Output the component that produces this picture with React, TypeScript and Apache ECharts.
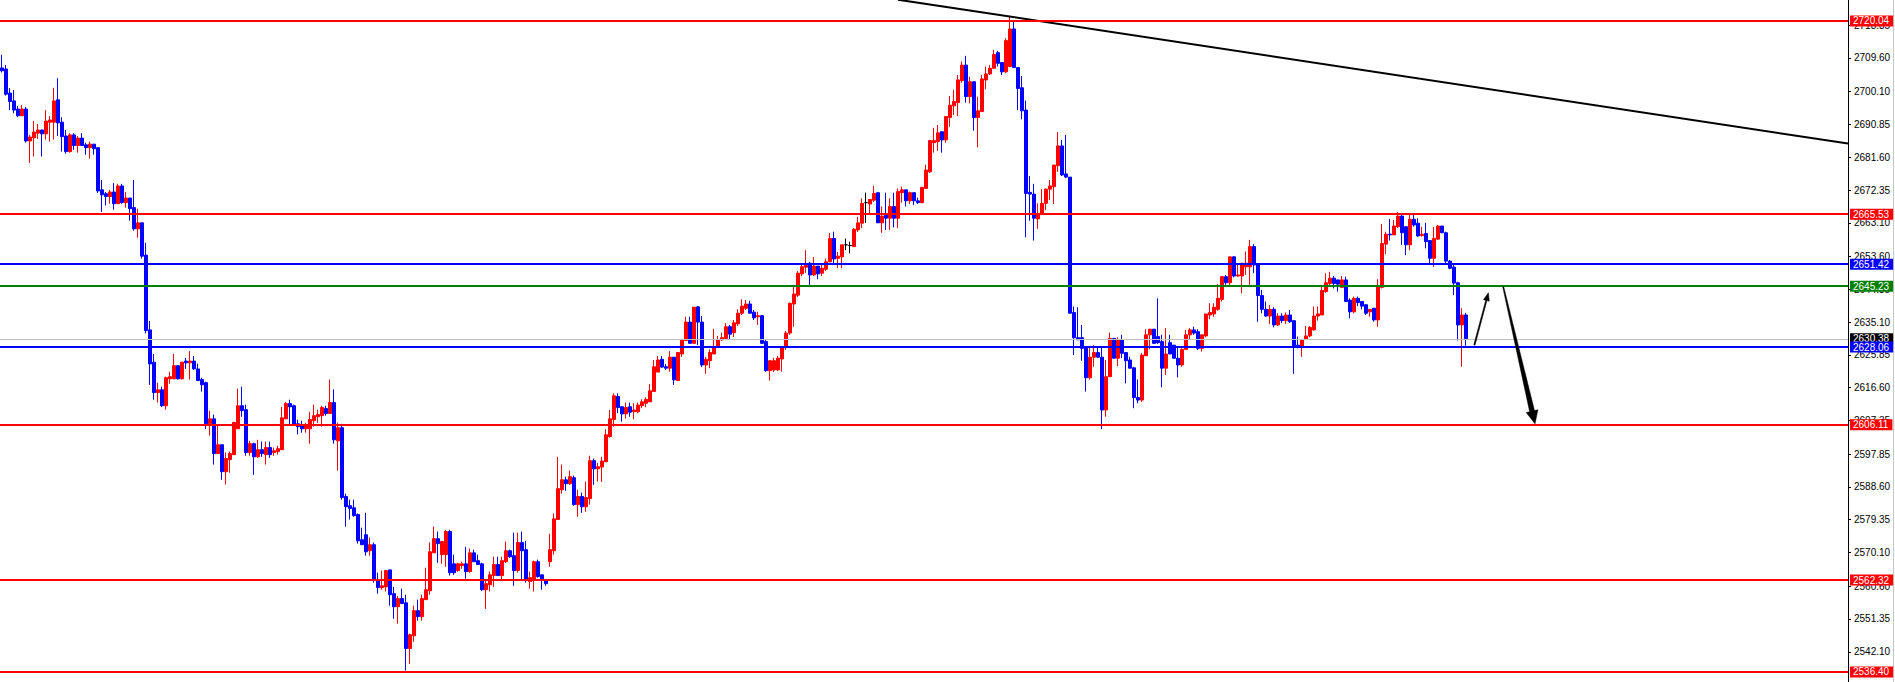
import React, { useEffect, useRef } from "react";
import * as echarts from "echarts";

// ---- candle data (oldest -> newest) ----
const opens = [
2706.8,2706.5,2699.7,2697.5,2695.2,2693.3,2695.2,2686.2,2687.1,2688.4,
2689.3,2688.2,2691.5,2691.5,2697.8,2691.5,2687.6,2683.2,2687.9,2684.9,
2687.0,2685.1,2684.3,2685.3,2684.3,2672.4,2671.3,2670.5,2671.8,2668.5,
2673.5,2668.8,2670.1,2667.4,2661.4,2663.1,2654.0,2632.9,2623.8,2615.2,
2616.0,2611.5,2619.1,2619.1,2622.8,2619.1,2624.1,2623.6,2624.1,2621.9,
2618.9,2618.0,2606.4,2607.8,2598.0,2600.5,2592.9,2596.3,2597.7,2605.0,
2611.5,2610.4,2598.3,2600.8,2597.1,2599.1,2597.7,2599.7,2598.3,2598.6,
2599.1,2607.8,2612.1,2611.5,2606.4,2606.2,2605.0,2605.0,2607.3,2608.4,
2608.7,2610.7,2609.3,2612.4,2601.6,2605.3,2585.9,2583.3,2582.7,2580.8,
2573.7,2575.1,2570.6,2572.3,2562.4,2560.2,2560.4,2565.2,2558.5,2554.8,
2557.1,2555.9,2543.0,2546.6,2553.7,2552.0,2556.8,2559.3,2570.0,2574.0,
2569.5,2569.5,2576.0,2566.9,2565.0,2566.4,2566.9,2564.7,2570.0,2567.8,
2566.9,2559.6,2561.0,2563.6,2566.7,2563.6,2567.5,2570.6,2569.2,2565.0,
2572.9,2570.9,2561.9,2562.2,2567.5,2563.8,2562.2,2567.5,2570.6,2579.4,
2587.8,2590.6,2589.5,2591.2,2583.6,2585.9,2583.0,2585.3,2596.0,2593.7,
2594.2,2595.7,2602.8,2607.6,2614.1,2611.2,2609.2,2611.2,2609.8,2609.8,
2611.5,2612.2,2612.6,2615.5,2621.0,2624.6,2622.5,2622.1,2625.2,2618.6,
2626.1,2629.9,2635.1,2629.1,2639.4,2635.1,2623.0,2624.2,2626.1,2628.2,
2630.1,2630.5,2633.8,2632.1,2634.6,2637.6,2639.0,2640.2,2637.9,2636.6,
2636.9,2629.6,2621.4,2621.6,2621.6,2624.7,2628.0,2632.0,2640.2,2642.7,
2648.7,2650.6,2651.7,2648.4,2650.9,2648.9,2650.0,2652.1,2658.7,2653.1,
2653.5,2656.9,2656.7,2656.4,2661.1,2663.0,2668.8,2668.4,2669.5,2671.6,
2663.1,2665.3,2664.4,2667.7,2664.4,2671.6,2672.4,2669.3,2671.6,2669.3,
2668.8,2672.8,2677.5,2685.7,2686.0,2688.8,2686.5,2692.8,2696.1,2697.0,
2703.2,2707.6,2698.7,2702.9,2692.8,2694.5,2703.4,2705.1,2706.7,2711.1,
2708.3,2705.7,2707.2,2717.8,2706.9,2701.2,2694.9,2671.7,2671.2,2664.2,
2665.6,2668.6,2672.6,2673.3,2679.2,2684.8,2676.9,2676.0,2637.8,2630.7,
2630.7,2627.7,2619.4,2625.2,2626.5,2625.2,2610.3,2619.7,2630.5,2624.9,
2630.2,2626.5,2624.4,2622.2,2613.8,2613.1,2625.6,2631.5,2633.1,2631.0,
2629.6,2622.1,2629.3,2628.6,2624.9,2623.0,2627.4,2631.5,2632.9,2632.4,
2627.7,2631.2,2637.1,2637.4,2638.7,2641.5,2647.9,2646.2,2653.5,2648.1,
2648.1,2650.7,2650.7,2656.4,2651.2,2642.6,2638.7,2636.8,2638.7,2634.3,
2636.8,2635.5,2637.1,2635.5,2628.6,2628.0,2630.2,2631.2,2632.9,2636.8,
2637.1,2643.7,2646.0,2647.5,2647.0,2644.9,2647.0,2641.3,2638.0,2641.8,
2640.9,2640.0,2638.0,2639.0,2635.7,2644.9,2657.1,2659.9,2659.7,2662.0,
2665.0,2662.0,2656.9,2664.1,2663.0,2659.5,2660.1,2658.1,2653.1,2658.5,
2662.2,2660.3,2652.3,2650.6,2646.2,2634.3,2637.1
];

const closes = [
2706.0,2699.4,2697.3,2694.9,2693.3,2695.2,2686.2,2687.3,2688.7,2689.3,
2688.2,2691.8,2692.1,2697.5,2691.3,2687.4,2683.2,2687.9,2684.9,2687.0,
2684.9,2684.3,2685.3,2684.0,2672.1,2671.0,2670.5,2671.8,2668.5,2673.5,
2668.8,2670.1,2667.1,2661.4,2663.1,2653.7,2632.7,2623.3,2615.2,2616.0,
2611.5,2619.4,2619.7,2622.8,2619.1,2623.8,2623.6,2624.1,2621.9,2618.6,
2617.4,2606.4,2607.8,2598.0,2600.5,2592.9,2596.6,2598.0,2606.8,2611.5,
2610.1,2598.3,2600.8,2597.1,2599.1,2598.0,2599.7,2597.7,2598.8,2599.4,
2608.1,2612.1,2611.2,2606.2,2605.6,2605.0,2605.9,2607.6,2608.7,2609.0,
2611.0,2609.3,2612.4,2601.9,2605.3,2585.6,2583.0,2582.5,2580.5,2573.4,
2572.3,2570.3,2572.3,2562.4,2560.2,2560.7,2565.0,2558.2,2554.8,2557.1,
2555.7,2543.0,2546.9,2553.7,2552.0,2557.1,2559.6,2570.3,2574.0,2572.6,
2573.2,2576.0,2564.4,2564.4,2566.9,2566.9,2564.7,2570.0,2567.5,2566.7,
2559.6,2561.3,2563.8,2566.7,2563.6,2567.8,2570.6,2568.9,2565.0,2572.9,
2570.6,2562.2,2563.0,2567.5,2563.3,2562.2,2561.3,2570.9,2579.6,2588.1,
2590.6,2589.5,2591.5,2583.6,2585.9,2583.0,2585.6,2596.0,2593.7,2594.3,
2595.9,2603.3,2607.8,2614.3,2611.0,2609.2,2611.0,2609.7,2610.3,2611.7,
2612.6,2613.3,2615.7,2622.5,2624.4,2622.4,2622.1,2625.2,2618.8,2626.5,
2630.2,2635.1,2629.1,2639.3,2635.1,2623.0,2624.6,2626.5,2628.2,2630.1,
2630.7,2633.8,2631.7,2634.9,2637.6,2639.6,2640.2,2637.6,2636.3,2636.9,
2629.1,2621.4,2624.2,2624.2,2624.9,2628.2,2632.0,2640.4,2643.0,2648.9,
2650.7,2651.2,2648.4,2650.9,2648.7,2650.3,2652.1,2658.7,2652.9,2653.7,
2656.9,2656.9,2656.7,2661.3,2663.1,2668.6,2668.8,2669.7,2671.4,2663.1,
2665.0,2664.4,2667.7,2664.4,2671.9,2672.4,2669.3,2671.6,2669.3,2668.8,
2673.1,2678.0,2686.3,2686.3,2688.5,2686.5,2693.1,2696.3,2697.3,2703.4,
2707.6,2698.7,2702.9,2692.8,2694.7,2703.7,2705.1,2706.7,2710.6,2708.1,
2705.7,2714.5,2717.8,2706.9,2701.0,2694.7,2671.4,2671.2,2664.4,2665.6,
2668.6,2672.6,2673.5,2679.4,2684.8,2676.6,2676.0,2637.6,2630.7,2630.1,
2627.7,2619.4,2625.2,2626.5,2625.2,2610.3,2619.7,2630.5,2624.9,2630.2,
2626.3,2624.2,2622.1,2613.8,2613.1,2625.8,2631.5,2633.1,2629.1,2629.3,
2622.1,2626.1,2626.1,2624.9,2623.0,2627.4,2631.5,2632.9,2632.0,2627.7,
2631.5,2637.4,2637.8,2639.3,2641.8,2647.9,2646.2,2653.5,2648.1,2648.4,
2651.7,2651.7,2656.4,2651.2,2642.6,2638.7,2636.8,2638.7,2634.3,2636.8,
2635.5,2637.1,2635.2,2628.2,2628.0,2630.2,2631.2,2633.6,2636.8,2637.4,
2644.0,2646.2,2647.5,2646.0,2645.8,2647.0,2640.9,2638.0,2641.8,2640.6,
2639.6,2637.6,2638.7,2635.7,2645.1,2657.3,2659.9,2659.7,2662.2,2665.0,
2660.3,2656.9,2664.1,2662.5,2659.4,2659.9,2657.8,2653.1,2658.7,2662.2,
2660.3,2652.3,2650.3,2646.1,2634.3,2637.1,2630.4
];

const lows = [
2705.5,2699.0,2694.9,2694.0,2692.9,2693.3,2685.7,2680.0,2681.8,2686.8,
2681.8,2686.6,2686.0,2686.6,2687.6,2683.2,2682.6,2682.9,2683.7,2682.9,
2684.9,2682.3,2681.2,2682.3,2671.5,2666.2,2668.0,2668.5,2666.8,2668.5,
2668.5,2667.4,2663.7,2660.9,2658.9,2653.0,2631.9,2617.4,2613.2,2612.4,
2611.2,2610.4,2617.7,2619.1,2618.9,2618.9,2621.9,2618.9,2621.6,2618.6,
2615.5,2605.0,2603.1,2594.9,2598.0,2590.6,2589.3,2592.6,2597.7,2605.0,
2608.4,2597.4,2597.4,2592.0,2596.8,2597.1,2594.9,2596.8,2597.4,2597.7,
2599.1,2607.8,2605.9,2605.9,2603.4,2603.9,2603.9,2600.8,2605.6,2606.7,
2605.6,2608.7,2609.3,2600.8,2593.2,2585.0,2577.4,2579.4,2580.2,2572.6,
2572.3,2569.2,2569.2,2561.6,2558.5,2559.6,2559.1,2555.1,2551.4,2550.0,
2555.7,2536.8,2538.7,2544.9,2550.9,2550.9,2556.8,2558.2,2570.0,2567.2,
2566.9,2566.1,2563.6,2563.8,2564.7,2565.5,2562.7,2564.4,2567.5,2566.7,
2559.3,2554.2,2559.1,2560.4,2563.6,2562.4,2567.2,2568.6,2560.7,2564.4,
2562.4,2561.6,2559.9,2559.1,2563.0,2559.6,2560.7,2566.1,2569.5,2579.4,
2586.7,2587.5,2589.2,2583.3,2580.2,2581.3,2581.6,2583.6,2589.2,2590.1,
2590.0,2595.7,2602.5,2605.6,2609.4,2607.0,2607.9,2608.4,2607.7,2609.4,
2610.8,2611.1,2612.6,2615.5,2621.0,2622.2,2621.6,2621.1,2617.4,2618.6,
2625.3,2629.9,2629.1,2629.1,2628.6,2622.4,2620.5,2622.1,2626.1,2627.8,
2629.8,2630.1,2630.3,2630.9,2634.0,2637.1,2638.5,2637.6,2635.7,2634.3,
2628.9,2621.1,2618.6,2621.0,2621.3,2621.1,2627.2,2631.5,2633.8,2642.2,
2648.1,2649.0,2645.6,2648.1,2647.2,2648.1,2649.5,2652.1,2651.7,2650.3,
2650.3,2655.4,2654.5,2656.3,2660.5,2661.6,2663.1,2665.3,2669.0,2663.1,
2660.3,2661.1,2661.1,2661.8,2661.6,2668.8,2667.7,2668.4,2668.1,2668.4,
2668.6,2672.8,2677.2,2682.9,2683.4,2682.9,2685.7,2690.2,2693.5,2693.2,
2702.6,2697.0,2696.8,2689.1,2684.4,2694.5,2700.8,2704.8,2706.7,2707.2,
2704.8,2705.3,2707.0,2706.9,2694.9,2692.3,2659.0,2663.7,2658.1,2661.4,
2665.6,2666.7,2669.5,2668.4,2677.5,2676.3,2675.7,2637.6,2625.8,2630.1,
2624.2,2615.5,2618.9,2622.5,2625.2,2604.9,2608.4,2619.7,2624.9,2622.7,
2624.9,2617.8,2622.1,2610.8,2612.2,2612.6,2625.6,2627.4,2629.1,2628.9,
2616.7,2620.2,2626.1,2624.9,2619.5,2622.5,2627.4,2630.2,2631.5,2627.2,
2626.8,2630.8,2635.9,2636.6,2638.3,2640.9,2645.6,2645.6,2647.7,2647.9,
2643.2,2648.4,2645.6,2648.9,2635.2,2637.6,2636.6,2634.6,2633.6,2634.0,
2634.8,2634.6,2634.9,2620.5,2627.7,2625.3,2630.2,2630.8,2632.7,2635.5,
2637.1,2643.4,2645.1,2644.6,2643.7,2644.9,2640.9,2636.2,2637.6,2639.6,
2638.7,2637.1,2636.6,2635.2,2633.8,2644.6,2654.3,2658.1,2659.7,2661.6,
2656.9,2654.0,2655.4,2662.0,2659.2,2659.2,2655.9,2651.7,2650.6,2658.3,
2660.2,2651.7,2650.0,2642.7,2629.9,2622.5,2628.4
];

const highs = [
2710.5,2707.6,2701.1,2700.6,2696.1,2696.3,2695.8,2687.9,2691.8,2691.0,
2689.3,2694.9,2693.2,2701.2,2703.9,2692.9,2689.3,2688.4,2688.4,2687.6,
2688.4,2685.7,2686.0,2685.3,2684.3,2675.2,2671.8,2672.4,2674.3,2674.1,
2674.1,2671.8,2670.1,2675.2,2667.1,2663.1,2657.5,2635.4,2626.1,2618.0,
2616.9,2619.7,2621.1,2626.1,2622.8,2623.8,2625.0,2626.9,2625.5,2623.4,
2619.4,2618.3,2610.1,2609.0,2606.2,2600.5,2598.3,2598.6,2607.0,2616.3,
2616.9,2611.8,2601.6,2601.1,2601.9,2601.4,2601.4,2601.4,2599.7,2600.2,
2611.2,2612.6,2613.2,2611.8,2607.6,2607.3,2606.7,2609.8,2611.8,2610.4,
2611.5,2611.5,2618.9,2616.1,2606.7,2606.4,2586.7,2585.0,2585.0,2581.1,
2577.1,2581.3,2574.3,2572.9,2564.4,2565.0,2565.2,2565.2,2560.4,2557.9,
2559.9,2558.2,2547.2,2555.1,2556.8,2558.2,2565.8,2572.9,2577.4,2576.0,
2573.4,2576.5,2576.5,2569.5,2567.2,2567.5,2571.7,2571.2,2570.9,2569.5,
2567.2,2562.4,2564.7,2568.9,2568.9,2568.9,2573.2,2570.9,2575.7,2575.7,
2576.0,2573.4,2564.7,2567.8,2568.1,2563.8,2562.2,2575.4,2581.1,2597.1,
2594.9,2591.5,2593.2,2591.8,2587.8,2587.0,2590.1,2597.4,2596.6,2595.4,
2597.1,2604.9,2610.3,2615.0,2615.0,2611.4,2612.4,2612.4,2612.2,2612.4,
2613.3,2613.9,2617.6,2624.4,2625.5,2625.5,2623.3,2626.9,2625.2,2626.7,
2630.2,2636.6,2636.6,2639.4,2639.6,2636.8,2625.3,2627.4,2633.2,2631.2,
2632.1,2634.8,2634.3,2635.7,2638.7,2641.5,2641.3,2641.1,2638.5,2638.0,
2637.1,2630.1,2624.4,2625.0,2625.5,2628.2,2632.6,2640.6,2645.1,2649.5,
2651.2,2655.4,2652.1,2653.4,2650.9,2651.2,2653.0,2660.2,2660.6,2654.9,
2656.9,2658.7,2657.8,2661.6,2664.8,2670.0,2671.6,2669.7,2673.5,2671.6,
2667.7,2671.6,2670.0,2671.6,2672.8,2673.3,2672.4,2671.9,2671.6,2670.2,
2673.3,2679.5,2686.5,2689.9,2690.7,2688.8,2693.1,2698.9,2700.6,2704.8,
2708.6,2710.2,2704.3,2702.9,2698.7,2704.8,2707.2,2707.6,2711.9,2711.6,
2708.3,2715.2,2721.5,2720.1,2706.9,2704.5,2697.6,2676.3,2674.1,2668.6,
2672.6,2672.8,2675.2,2679.4,2688.7,2686.5,2687.9,2676.0,2639.5,2639.3,
2634.3,2628.2,2628.0,2628.6,2628.0,2628.0,2624.4,2632.1,2630.5,2630.8,
2631.5,2626.5,2625.3,2622.5,2618.9,2626.3,2633.1,2633.1,2633.1,2641.8,
2631.5,2633.4,2631.5,2628.6,2628.2,2627.7,2632.9,2633.4,2633.8,2633.1,
2631.5,2637.4,2640.4,2640.4,2645.8,2648.1,2648.4,2653.5,2653.7,2651.7,
2651.7,2655.0,2658.3,2657.1,2651.2,2644.2,2640.9,2639.9,2639.3,2637.6,
2637.6,2637.8,2638.5,2635.7,2631.0,2630.2,2634.0,2634.0,2639.5,2639.5,
2645.3,2648.9,2649.3,2648.1,2647.0,2648.1,2647.9,2641.8,2642.3,2642.3,
2640.9,2640.0,2638.7,2639.0,2647.2,2662.8,2660.6,2664.2,2663.9,2666.1,
2665.5,2662.0,2665.3,2665.8,2664.4,2662.0,2663.1,2658.1,2662.0,2662.5,
2662.2,2660.6,2652.6,2651.2,2646.5,2639.0,2637.7
];

// ---- horizontal levels ----
const levelPrices = [2720.04, 2665.53, 2651.42, 2645.23, 2628.06, 2606.11, 2562.32, 2536.4];
const levelColors = ["#FF0000", "#FF0000", "#0000FF", "#008000", "#0000FF", "#FF0000", "#FF0000", "#FF0000"];
const bidPrice = 2630.38;

// ---- price scale ticks ----
const tickValues = [
  2718.85, 2709.6, 2700.1, 2690.85, 2681.6, 2672.35, 2663.1, 2653.6, 2644.35, 2635.1,
  2625.85, 2616.6, 2607.35, 2597.85, 2588.6, 2579.35, 2570.1, 2560.6, 2551.35, 2542.1,
];
const priceMin = 2533.57;
const priceMax = 2725.96;
const slotCount = 462;

// ---- drawn annotations (bar index, price) ----
const trendLine = [
  [224.0, 2726.05],
  [461.5, 2685.45],
];
const arrowUp = [368.1, 2628.64, 371.6, 2643.39];
const arrowDown = [375.3, 2645.08, 383.25, 2606.4];

const FONT = "'Liberation Sans', Arial, sans-serif";

export default function App() {
  const ref = useRef<HTMLDivElement>(null);

  useEffect(() => {
    if (!ref.current) return;
    const chart = echarts.init(ref.current, null, { renderer: "svg" });

    const categories = Array.from({ length: slotCount }, (_, i) => String(i));
    const candleData = opens.map((o, i) => [o, closes[i], lows[i], highs[i]]);

    const mkLabel = (price: number, bg: string) => ({
      show: true,
      position: "end",
      distance: 2,
      formatter: price.toFixed(2),
      color: "#FFFFFF",
      backgroundColor: bg,
      padding: [1, 4, 0, 3],
      fontSize: 10,
      lineHeight: 10,
      fontFamily: FONT,
    });

    const markData: any[] = [
      {
        yAxis: bidPrice,
        lineStyle: { color: "#C0C0C0", width: 1, type: "solid" },
        label: mkLabel(bidPrice, "#000000"),
      },
      ...levelPrices.map((p, i) => ({
        yAxis: p,
        lineStyle: { color: levelColors[i], width: 2, type: "solid" },
        label: mkLabel(p, levelColors[i]),
      })),
    ];

    const option: any = {
      animation: false,
      backgroundColor: "#FFFFFF",
      grid: { left: 0, right: 47, top: 0, bottom: 0, containLabel: false },
      xAxis: [
        {
          type: "category",
          data: categories,
          boundaryGap: true,
          show: false,
        },
        {
          type: "value",
          min: -0.5,
          max: slotCount - 0.5,
          show: false,
        },
      ],
      yAxis: {
        type: "value",
        position: "right",
        min: priceMin,
        max: priceMax,
        splitLine: { show: false },
        axisLine: { show: true, onZero: false, lineStyle: { color: "#000000", width: 1 } },
        axisTick: {
          show: true,
          length: 3,
          customValues: tickValues,
          lineStyle: { color: "#000000", width: 1 },
        },
        axisLabel: {
          show: true,
          margin: 6,
          customValues: tickValues,
          formatter: (v: number) => v.toFixed(2),
          color: "#000000",
          fontSize: 10,
          fontFamily: FONT,
        },
      },
      series: [
        {
          type: "candlestick",
          xAxisIndex: 0,
          data: candleData,
          barWidth: 2.6,
          itemStyle: {
            color: "#FF0000",
            color0: "#0000FF",
            borderColor: "#FF0000",
            borderColor0: "#0000FF",
            borderColorDoji: "#000000",
            borderWidth: 1,
          },
          markLine: {
            silent: true,
            symbol: ["none", "none"],
            animation: false,
            precision: 2,
            data: markData,
          },
        },
        {
          type: "line",
          xAxisIndex: 1,
          data: trendLine,
          symbol: "none",
          clip: true,
          silent: true,
          lineStyle: { color: "#000000", width: 2 },
          z: 4,
        },
        {
          type: "custom",
          xAxisIndex: 1,
          silent: true,
          clip: false,
          z: 5,
          encode: { x: [0, 2], y: [1, 3] },
          data: [arrowUp, arrowDown],
          renderItem: (params: any, api: any) => {
            const p1 = api.coord([api.value(0), api.value(1)]);
            const p2 = api.coord([api.value(2), api.value(3)]);
            const big = params.dataIndex === 1;
            const dx = p2[0] - p1[0];
            const dy = p2[1] - p1[1];
            const len = Math.hypot(dx, dy) || 1;
            const ux = dx / len;
            const uy = dy / len;
            const nx = -uy;
            const ny = ux;
            const headL = big ? 13 : 8;
            const headW = big ? 12 : 6;
            const w0 = big ? 1 : 1.3;
            const w1 = big ? 5 : 1.3;
            const bx = p2[0] - ux * headL;
            const by = p2[1] - uy * headL;
            const pts = [
              [p1[0] + (nx * w0) / 2, p1[1] + (ny * w0) / 2],
              [bx + (nx * w1) / 2, by + (ny * w1) / 2],
              [bx + (nx * headW) / 2, by + (ny * headW) / 2],
              [p2[0], p2[1]],
              [bx - (nx * headW) / 2, by - (ny * headW) / 2],
              [bx - (nx * w1) / 2, by - (ny * w1) / 2],
              [p1[0] - (nx * w0) / 2, p1[1] - (ny * w0) / 2],
            ];
            return {
              type: "polygon",
              shape: { points: pts },
              style: { fill: "#000000", stroke: "#000000", lineWidth: 0.5 },
            };
          },
        },
      ],
      graphic: [
        {
          type: "line",
          shape: { x1: 1893.5, y1: 0, x2: 1893.5, y2: 682 },
          style: { stroke: "#C8C8C8", lineWidth: 1 },
          silent: true,
        },
      ],
    };

    chart.setOption(option);
    return () => {
      chart.dispose();
    };
  }, []);

  return (
    <div
      ref={ref}
      style={{
        position: "fixed",
        left: 0,
        top: 0,
        width: 1895,
        height: 682,
        background: "#FFFFFF",
      }}
    />
  );
}
